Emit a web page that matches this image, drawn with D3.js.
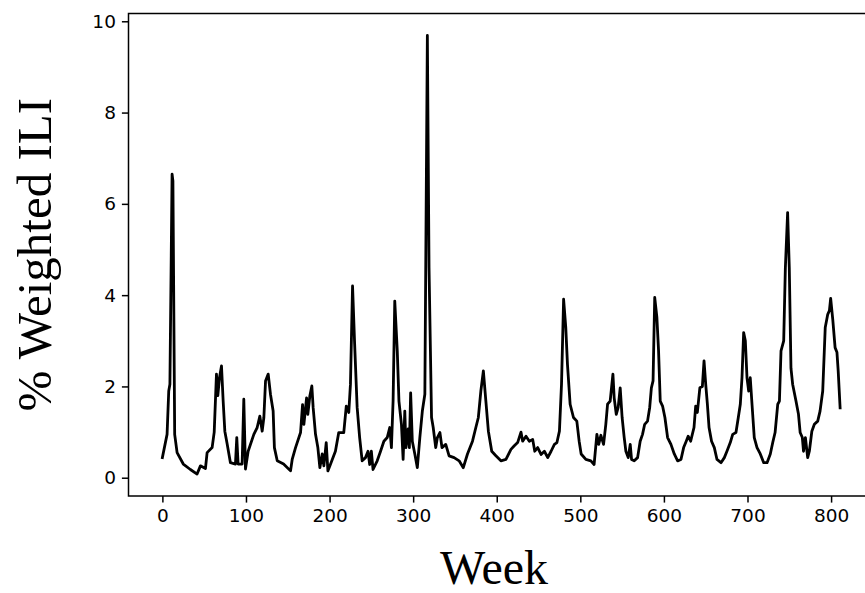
<!DOCTYPE html>
<html>
<head>
<meta charset="utf-8">
<script src="https://cdn.jsdelivr.net/npm/d3@7"></script>
<style>
  html, body { margin: 0; padding: 0; background: #fff; }
  svg { display: block; overflow: hidden; }
</style>
</head>
<body>
<svg id="chart" width="865" height="593"></svg>
<script>
// weeks and % weighted ILI
const weeks = [
  0, 5.6, 7.6, 9, 11.6, 12.6, 14.7, 17.6, 25, 33.5, 41.5, 45.5, 51.5, 53.5, 59.5, 62, 64.7, 66.3, 68.3, 70.7,
  72.7, 74.7, 77.5, 81.4, 87.4, 89, 90.6, 95.4, 97.4, 99.4, 102.6, 109.4, 113.4, 116.6, 119.4, 121.4, 123.4, 126.6, 129.3, 132.5,
  134, 137.4, 145, 153.3, 155.3, 159.3, 165.3, 167.7, 169.3, 172.5, 174, 176.4, 178.8, 180.4, 183.2, 186, 188.4, 191.2, 193.2, 196,
  198, 201, 207, 211, 217, 220, 223, 225, 227.5, 230, 233, 236, 239, 243, 246, 248, 250, 252, 257, 261,
  265, 269, 272, 274, 276, 278, 281, 283, 286, 288, 290, 291.4, 294, 295.5, 297, 299, 302, 305, 308, 311,
  314, 317, 319, 322, 324, 327, 329, 332, 334.5, 339, 343, 349, 355, 360, 365, 371, 375, 378, 381, 384,
  387, 390, 394, 399, 405, 411, 417, 421, 425, 429, 431, 435, 439, 443, 445.5, 449, 453, 457, 461, 465,
  469, 472, 475, 477.5, 480, 482.6, 484.6, 487.8, 491.8, 495.8, 498.6, 501, 506.6, 512.6, 516.5, 519.8, 522, 524.6, 527.8, 530.5,
  532.6, 535.7, 539, 540.5, 543, 545.3, 547.7, 550, 552.5, 554.5, 557.3, 559.7, 561.3, 564.5, 568.5, 571.6, 574.4, 577, 580.4, 583,
  585, 587, 589, 591.6, 593.6, 595.6, 598.4, 601.2, 604.4, 608.4, 612.4, 616.4, 620.4, 623.6, 626.7, 629, 632, 636, 638, 640,
  643, 646, 648, 650, 652, 654, 657, 660.3, 663.5, 668.3, 672.3, 675.4, 679.4, 682.3, 686.2, 689, 691.4, 693.4, 695.4, 697.4,
  699.4, 701.4, 703.3, 705.4, 708.1, 711.4, 715.3, 719.4, 723.4, 727.3, 730.2, 733, 736.2, 738.2, 740.1, 743.3, 745.3, 748, 750, 752,
  754, 758, 761, 763, 765.6, 767, 769.3, 772, 774, 777, 780, 784, 786.8, 790, 793, 796, 798, 799.5, 802, 804.8,
  807, 808.5, 810.8
];
const ili = [
  0.44, 0.95, 1.9, 2.05, 6.65, 6.5, 0.95, 0.55, 0.3, 0.18, 0.08, 0.26, 0.2, 0.55, 0.66, 1.0, 2.27, 1.8, 2.19, 2.45,
  1.68, 1.02, 0.74, 0.33, 0.3, 0.88, 0.3, 0.3, 1.72, 0.19, 0.58, 0.95, 1.1, 1.35, 1.02, 1.32, 2.12, 2.27, 1.83, 1.46,
  0.66, 0.37, 0.3, 0.15, 0.4, 0.66, 0.99, 1.6, 1.17, 1.75, 1.39, 1.79, 2.01, 1.53, 0.95, 0.66, 0.22, 0.52, 0.26, 0.77,
  0.15, 0.29, 0.58, 0.99, 0.99, 1.57, 1.43, 2.05, 4.2, 2.93, 1.54, 0.88, 0.37, 0.44, 0.58, 0.29, 0.58, 0.18, 0.37, 0.58,
  0.8, 0.88, 1.1, 0.66, 1.68, 3.87, 2.78, 1.68, 1.17, 0.4, 1.46, 0.66, 1.07, 0.66, 1.86, 0.8, 0.52, 0.22, 0.88, 1.46,
  1.83, 9.69, 4.6, 1.32, 1.1, 0.66, 0.88, 0.99, 0.66, 0.73, 0.48, 0.44, 0.37, 0.22, 0.52, 0.8, 1.1, 1.32, 1.9, 2.34,
  1.68, 1.02, 0.58, 0.48, 0.37, 0.4, 0.62, 0.7, 0.77, 1.0, 0.8, 0.91, 0.8, 0.84, 0.58, 0.66, 0.51, 0.58, 0.44, 0.58,
  0.73, 0.77, 1.02, 2.05, 3.91, 3.29, 2.49, 1.61, 1.32, 1.24, 0.8, 0.52, 0.4, 0.37, 0.29, 0.95, 0.73, 0.93, 0.73, 1.17,
  1.61, 1.68, 2.27, 1.75, 1.39, 1.54, 1.97, 1.32, 0.88, 0.58, 0.44, 0.73, 0.4, 0.37, 0.44, 0.8, 0.95, 1.17, 1.24, 1.54,
  1.97, 2.12, 3.95, 3.51, 2.78, 1.68, 1.57, 1.32, 0.88, 0.73, 0.52, 0.37, 0.4, 0.66, 0.8, 0.91, 0.8, 1.1, 1.57, 1.43,
  1.97, 2.0, 2.56, 2.05, 1.61, 1.1, 0.8, 0.66, 0.4, 0.33, 0.44, 0.58, 0.77, 0.95, 0.99, 1.32, 1.61, 2.19, 3.18, 3.0,
  2.19, 1.9, 2.19, 1.61, 0.88, 0.66, 0.52, 0.33, 0.33, 0.52, 0.77, 0.99, 1.61, 1.68, 2.78, 3.0, 4.6, 5.81, 4.6, 2.4,
  2.05, 1.68, 1.39, 0.99, 0.88, 0.58, 0.88, 0.44, 0.58, 1.02, 1.17, 1.24, 1.46, 1.9, 3.29, 3.58, 3.66, 3.93, 3.47, 2.85,
  2.75, 2.34, 1.53
];
const xTicks = [0, 100, 200, 300, 400, 500, 600, 700, 800];
const yTicks = [0, 2, 4, 6, 8, 10];

const svg = d3.select('#chart');
const box = { left: 128.5, right: 874, top: 13.5, bottom: 496 };

// matplotlib style 5% padding on both axes
const xMin = d3.min(weeks), xMax = d3.max(weeks);
const yMin = d3.min(ili), yMax = d3.max(ili);
const xPad = (xMax - xMin) * 0.05, yPad = (yMax - yMin) * 0.05;

const x = d3.scaleLinear().domain([xMin - xPad, xMax + xPad]).range([box.left, box.right]);
const y = d3.scaleLinear().domain([yMin - yPad, yMax + yPad]).range([box.bottom, box.top]);

const points = weeks.map((w, i) => [w, ili[i]]);

svg.append('defs').append('clipPath').attr('id', 'plotclip')
  .append('rect')
  .attr('x', box.left).attr('y', box.top)
  .attr('width', box.right - box.left).attr('height', box.bottom - box.top);

svg.append('path')
  .datum(points)
  .attr('clip-path', 'url(#plotclip)')
  .attr('fill', 'none')
  .attr('stroke', '#000')
  .attr('stroke-width', 2.8)
  .attr('stroke-linejoin', 'round')
  .attr('stroke-linecap', 'square')
  .attr('d', d3.line().x(d => x(d[0])).y(d => y(d[1])));

// axes
const xAxis = svg.append('g')
  .attr('transform', `translate(0,${box.bottom})`)
  .call(d3.axisBottom(x).tickValues(xTicks).tickSize(6.6).tickPadding(6).tickSizeOuter(0));
const yAxis = svg.append('g')
  .attr('transform', `translate(${box.left},0)`)
  .call(d3.axisLeft(y).tickValues(yTicks).tickSize(6.6).tickPadding(6).tickSizeOuter(0));

[xAxis, yAxis].forEach(g => {
  g.select('.domain').remove();
  g.selectAll('.tick line').attr('stroke', '#000').attr('stroke-width', 1.5);
  g.selectAll('.tick text')
    .attr('fill', '#000')
    .style('font-family', '"DejaVu Sans", sans-serif')
    .style('font-size', '18.5px');
});

// frame
svg.append('rect')
  .attr('x', box.left).attr('y', box.top)
  .attr('width', box.right - box.left).attr('height', box.bottom - box.top)
  .attr('fill', 'none').attr('stroke', '#000').attr('stroke-width', 1.5);

// labels
svg.append('text')
  .attr('x', 494).attr('y', 584)
  .attr('text-anchor', 'middle')
  .style('font-family', '"Liberation Serif", "DejaVu Serif", serif')
  .style('font-size', '48px')
  .text('Week');

svg.append('text')
  .attr('transform', `translate(51,${(box.top + box.bottom) / 2}) rotate(-90)`)
  .attr('text-anchor', 'middle')
  .style('font-family', '"Liberation Serif", "DejaVu Serif", serif')
  .style('font-size', '49px')
  .text('% Weighted ILI');
</script>
</body>
</html>
